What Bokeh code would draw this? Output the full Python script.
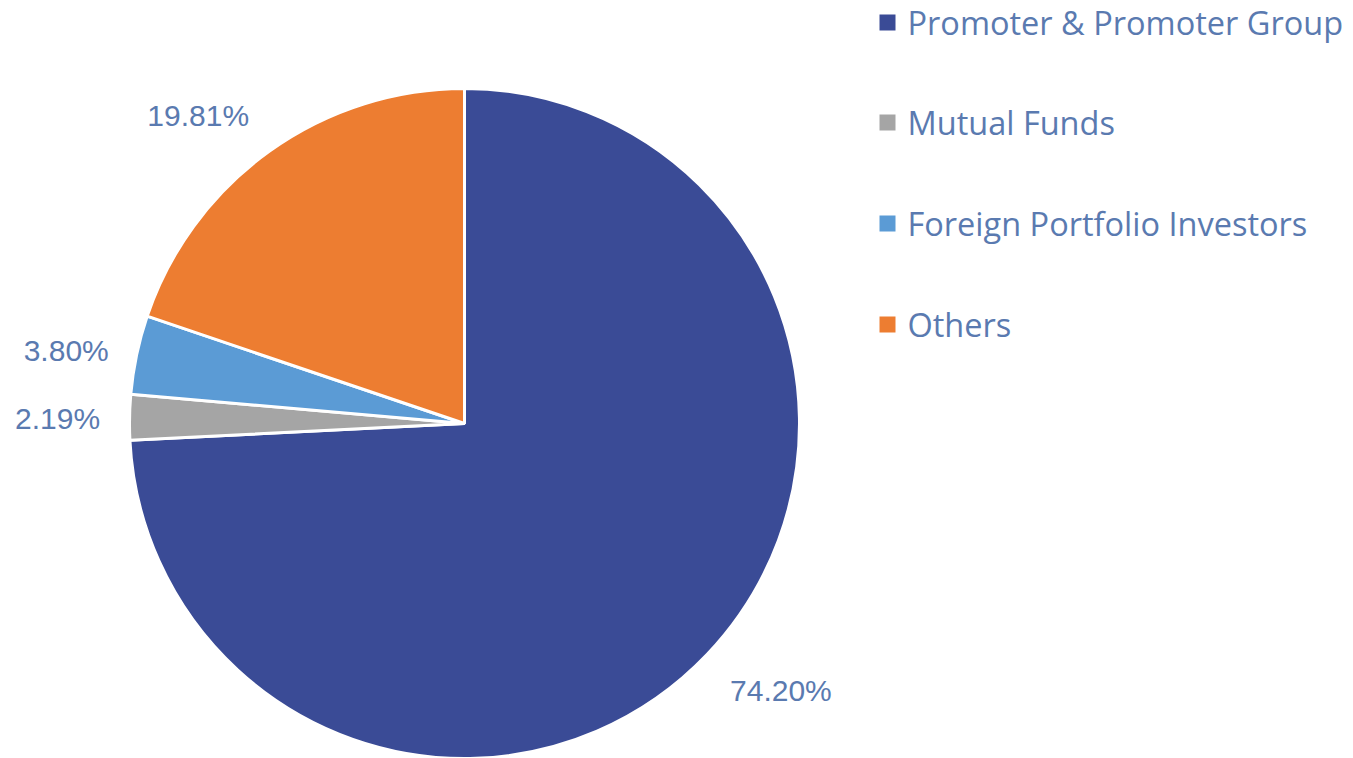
import math
from bokeh.plotting import figure
from bokeh.models import Range1d, ColumnDataSource
from bokeh.core.properties import value
from bokeh.embed import file_html
from bokeh.resources import INLINE

# ---- data ----
categories = ["Promoter & Promoter Group", "Mutual Funds", "Foreign Portfolio Investors", "Others"]
shares = [74.20, 2.19, 3.80, 19.81]
labels = ["74.20%", "2.19%", "3.80%", "19.81%"]
colors = ["#3A4B96", "#A5A5A5", "#5B9BD5", "#ED7D31"]

# ---- layout (pixel-like data units) ----
W, H = 1345, 758
cx, cy, r = 464, -423, 335
label_dist = [414, 407, 405, 407]
label_shift_deg = [3.4, 0.4, 1.4, 5.2]
text_color = "#5A7AB0"

p = figure(width=W, height=H, output_backend="svg", toolbar_location=None,
           x_range=Range1d(0, W), y_range=Range1d(-H, 0),
           min_border=0)
p.axis.visible = False
p.grid.visible = False
p.outline_line_color = None
p.background_fill_color = "white"

total = sum(shares)
starts, ends, mids = [], [], []
acc = 0.0
for s in shares:
    a0 = math.pi / 2 - 2 * math.pi * acc / total
    acc += s
    a1 = math.pi / 2 - 2 * math.pi * acc / total
    starts.append(a0)
    ends.append(a1)
    mids.append((a0 + a1) / 2)

src = ColumnDataSource(dict(start=starts, end=ends, color=colors, cat=categories))
p.wedge(x=cx, y=cy, radius=r, start_angle="start", end_angle="end",
        direction="clock", fill_color="color", line_color="white",
        line_width=3, source=src)

lx, ly = [], []
for m, d, sh in zip(mids, label_dist, label_shift_deg):
    a = m + math.radians(sh)
    lx.append(cx + d * math.cos(a))
    ly.append(cy + d * math.sin(a))
p.text(x=lx, y=ly, text=labels, text_align="center", text_baseline="middle",
       text_font=value("Liberation Sans"), text_font_size="30px",
       text_color=text_color)

# legend
leg_y = [-22, -122, -223, -324]
p.rect(x=[887] * 4, y=leg_y, width=16, height=16, fill_color=colors, line_color=None)
p.text(x=[907] * 4, y=leg_y, text=categories, text_align="left", text_baseline="middle",
       text_font=value("Open Sans"), text_font_size="32.5px", text_color=text_color)

open("out.html", "w").write(file_html(p, INLINE))
